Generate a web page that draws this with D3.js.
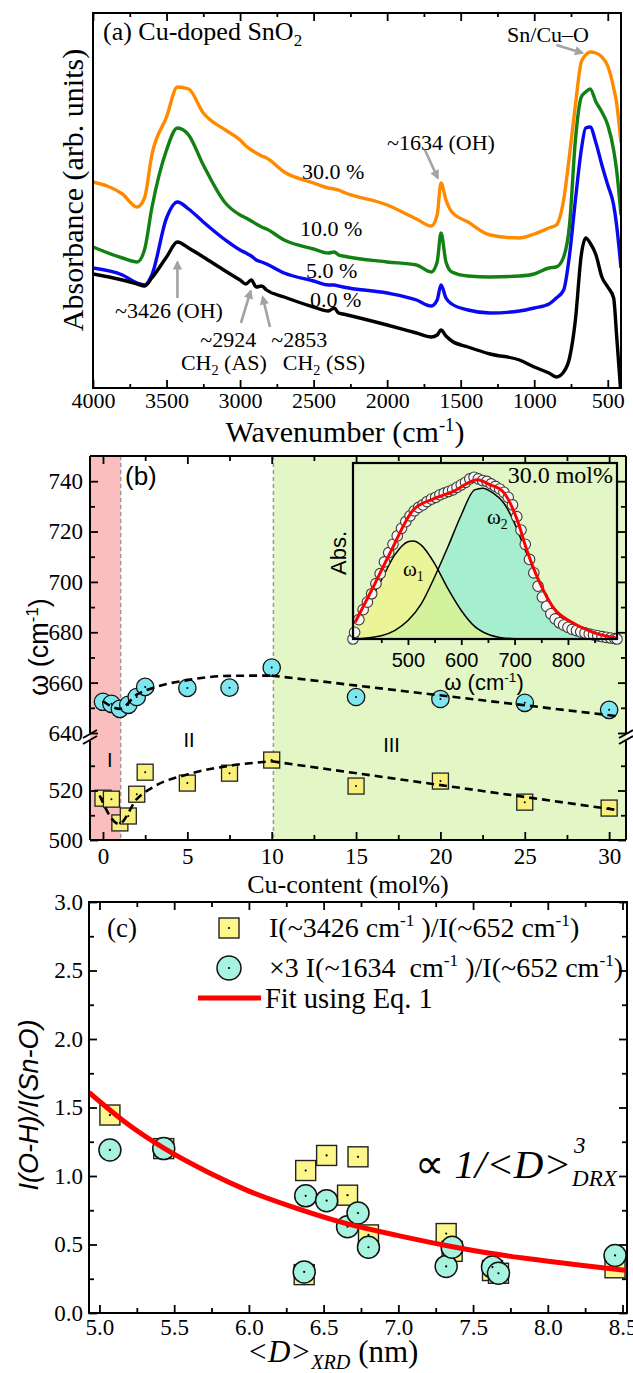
<!DOCTYPE html>
<html>
<head>
<meta charset="utf-8">
<script src="https://cdn.jsdelivr.net/npm/d3@7/dist/d3.min.js"></script>
<style>
html,body{margin:0;padding:0;background:#fff;}
svg{display:block;}
text{white-space:pre;}
</style>
</head>
<body>
<svg id="chart" width="633" height="1373" xmlns="http://www.w3.org/2000/svg"></svg>
<script>
// ======================= DATA =======================
// ---- Panel (a): FTIR absorbance spectra (arb. units, stacked)
const wavenumbers = [4000,3800,3700,3650,3600,3500,3426,3350,3250,3100,3000,2960,2924,2890,2853,2820,2700,2500,2400,2360,2330,2300,2000,1800,1700,1660,1634,1600,1560,1450,1300,1100,1000,900,850,800,760,720,680,650,620,580,540,500,460,440,410];
const absCu0  = [1.14,1.08,1.04,1.02,1.10,1.31,1.46,1.40,1.31,1.17,1.08,1.04,1.08,1.01,1.02,0.98,0.91,0.81,0.77,0.80,0.75,0.74,0.63,0.55,0.51,0.53,0.58,0.52,0.47,0.41,0.34,0.28,0.21,0.15,0.11,0.16,0.30,0.68,1.33,1.50,1.45,1.33,1.11,1.01,0.90,0.53,-0.07];
const absCu5  = [1.20,1.13,1.05,1.03,1.13,1.70,1.86,1.79,1.66,1.48,1.38,1.35,1.32,1.28,1.26,1.24,1.15,1.07,1.03,1.03,1.02,1.01,0.95,0.88,0.82,0.88,1.03,0.90,0.84,0.78,0.75,0.77,0.80,0.84,0.90,0.98,1.33,1.88,2.38,2.60,2.61,2.45,2.23,2.03,1.83,1.63,1.20];
const absCu10 = [1.41,1.30,1.26,1.38,1.80,2.38,2.60,2.53,2.23,1.85,1.73,1.70,1.67,1.64,1.61,1.59,1.48,1.39,1.35,1.36,1.33,1.32,1.26,1.23,1.16,1.26,1.55,1.26,1.16,1.12,1.11,1.12,1.14,1.20,1.21,1.31,1.63,2.48,2.91,2.96,2.99,2.86,2.76,2.63,2.38,2.18,1.73];
const absCu30 = [2.06,1.94,1.81,1.90,2.33,2.71,3.01,2.99,2.75,2.58,2.48,2.42,2.38,2.35,2.32,2.30,2.16,2.05,2.00,1.99,1.98,1.96,1.83,1.69,1.62,1.73,2.05,1.88,1.76,1.66,1.53,1.50,1.54,1.60,1.63,1.88,2.33,2.83,3.26,3.33,3.36,3.35,3.31,3.22,3.00,2.85,2.45];
const spectrumLabels = ["0.0 %","5.0 %","10.0 %","30.0 %"];
const wavenumberTicks = [4000,3500,3000,2500,2000,1500,1000,500];
const wavenumberMinorTicks = [3750,3250,2750,2250,1750,1250,750];

// ---- Panel (b): mode positions vs Cu content
const cuContent = [0,0.5,1,1.5,2,2.5,5,7.5,10,15,20,25,30];
const omega2 = [652.4,651.6,649.6,651.2,654.3,658.3,657.9,658.0,666.0,654.3,653.5,652.0,649.2];
const omega1 = [516.9,516.5,506.9,509.7,518.5,527.4,523.0,527.0,532.3,521.8,523.8,515.3,512.9];
const omega2FitCu = [0,1,2,3,5,7.5,10];
const omega2FitVal = [652.6,649.6,655.2,658.0,661.0,662.7,662.8];
const omega2TrendCu = [10,30.6];
const omega2TrendVal = [662.8,646.6];
const omega1FitCu = [-0.2,0.95,2,3,5,7.5,10];
const omega1FitVal = [518.0,506.5,516.5,521.5,526.5,530.0,531.8];
const omega1TrendCu = [10,30.6];
const omega1TrendVal = [531.8,512.0];
const regionBounds = [1.05,10.1];
const cuTicks = [0,5,10,15,20,25,30];
const cuMinorTicks = [2.5,7.5,12.5,17.5,22.5,27.5];
const omegaUpperTicks = [640,660,680,700,720,740];
const omegaUpperMinor = [650,670,690,710,730];
const omegaLowerTicks = [500,520];
const omegaLowerMinor = [510,530];

// ---- Panel (b) inset: 30.0 mol% band deconvolution
const insetWave = [397,400,408,416,424,432,440,448,456,464,472,480,488,496,504,512,520,528,536,544,552,560,568,576,584,592,600,608,616,624,632,640,648,656,664,672,680,688,696,704,712,720,728,736,744,752,760,768,776,784,792,800,808,816,824,832,840,848,856,864,872,880,888,892];
const insetAbs  = [0.0,0.04,0.115,0.175,0.22,0.27,0.33,0.39,0.46,0.515,0.565,0.615,0.66,0.70,0.735,0.765,0.785,0.80,0.82,0.835,0.845,0.86,0.87,0.88,0.89,0.905,0.92,0.935,0.955,0.965,0.955,0.945,0.94,0.925,0.91,0.895,0.875,0.845,0.80,0.73,0.65,0.565,0.475,0.395,0.315,0.25,0.195,0.15,0.12,0.097,0.083,0.07,0.057,0.05,0.043,0.036,0.029,0.024,0.019,0.014,0.01,0.006,0.002,0.0];
const insetFitWave = [401,435,466,510,547,585,630,654,678,705,723,748,772,810,847,892];
const insetFitAbs  = [0.10,0.31,0.51,0.77,0.835,0.88,0.95,0.92,0.88,0.71,0.53,0.33,0.19,0.095,0.04,0.005];
const comp1Wave = [397,425,450,475,500,510,525,550,575,600,625,650,675,700,750,892];
const comp1Abs  = [0.09,0.21,0.35,0.50,0.58,0.585,0.56,0.45,0.30,0.17,0.075,0.028,0.008,0.002,0,0];
const comp2Wave = [397,450,475,500,525,550,575,600,625,640,660,680,700,720,740,760,780,800,825,850,892];
const comp2Abs  = [0,0.02,0.05,0.11,0.21,0.37,0.55,0.74,0.89,0.90,0.87,0.81,0.69,0.53,0.38,0.25,0.15,0.085,0.04,0.015,0];
const insetTicks = [500,600,700,800];
const insetMinorTicks = [450,550,650,750,850];

// ---- Panel (c): intensity ratios vs crystallite size
const crystalSize = [5.07,5.43,6.37,6.38,6.52,6.66,6.73,6.80,7.32,7.36,7.63,7.67,8.45];
const ratio3426 = [1.445,1.20,0.28,1.04,1.15,0.86,1.14,0.57,0.58,0.45,0.31,0.29,0.33];
const ratio1634x3 = [1.19,1.20,0.30,0.855,0.82,0.63,0.73,0.48,0.34,0.48,0.335,0.29,0.42];
const fitSize = [4.93,5.2,5.42,5.74,6.0,6.33,6.66,7.0,7.31,7.65,7.99,8.25,8.53];
const fitRatio = [1.61,1.37,1.21,1.02,0.89,0.76,0.65,0.565,0.495,0.43,0.38,0.345,0.31];
const sizeTicks = [5.0,5.5,6.0,6.5,7.0,7.5,8.0,8.5];
const sizeMinorTicks = [5.25,5.75,6.25,6.75,7.25,7.75,8.25];
const ratioTicks = [0,0.5,1.0,1.5,2.0,2.5,3.0];
const ratioMinorTicks = [0.25,0.75,1.25,1.75,2.25,2.75];

// ======================= DRAWING =======================
const SERIF = "'Liberation Serif','Times New Roman',serif";
const SANS = "'Liberation Sans',Arial,sans-serif";
const svg = d3.select("#chart");
svg.append("rect").attr("width",633).attr("height",1373).attr("fill","#fff");
const defs = svg.append("defs");
defs.append("marker").attr("id","arrowGray").attr("viewBox","0 0 10 10")
  .attr("refX",8).attr("refY",5).attr("markerWidth",4).attr("markerHeight",3.6)
  .attr("orient","auto")
  .append("path").attr("d","M0,0 L10,5 L0,10 z").attr("fill","#a3a3a3");

function styleAxis(sel, family, size) {
  sel.select(".domain").remove();
  sel.selectAll(".tick line").attr("stroke","#000").attr("stroke-width",1.8);
  sel.selectAll(".tick text").attr("font-family",family).attr("font-size",size).attr("fill","#000");
}
function addAxis(g, gen, tx, ty, family, size) {
  return g.append("g").attr("transform",`translate(${tx},${ty})`).call(gen).call(styleAxis, family, size);
}
function richText(g, x, y, parts, o) {
  const t = g.append("text").attr("x",x).attr("y",y)
    .attr("font-family",o.family).attr("font-size",o.size)
    .attr("text-anchor",o.anchor||"start").attr("fill","#000");
  if (o.italic) t.attr("font-style","italic");
  if (o.rotate) t.attr("transform",`rotate(${o.rotate},${x},${y})`);
  let shift = 0;
  parts.forEach(p => {
    let target = 0, size = o.size;
    if (p.sup) { target = -o.size*0.38; size = o.size*0.62; }
    if (p.sub) { target = o.size*0.22; size = o.size*0.65; }
    const ts = t.append("tspan").attr("dy", target - shift).attr("font-size", size).text(p.t);
    if (p.italic !== undefined) ts.attr("font-style", p.italic ? "italic" : "normal");
    shift = target;
  });
  return t;
}

// ---------------- Panel (a) ----------------
const A = {l:93, r:621, t:13, b:388};
const xA = d3.scaleLinear().domain([4000,410]).range([A.l,A.r]);
const yA = d3.scaleLinear().domain([0,3.75]).range([A.b,A.t]);
const gA = svg.append("g");
defs.append("clipPath").attr("id","clipA").append("rect")
  .attr("x",A.l).attr("y",A.t).attr("width",A.r-A.l).attr("height",A.b-A.t);

const spectra = [
  {vals:absCu30, color:"#ff8a00"},
  {vals:absCu10, color:"#138013"},
  {vals:absCu5,  color:"#0808f2"},
  {vals:absCu0,  color:"#000000"}
];
const lineA = d3.line().x((d,i)=>xA(wavenumbers[i])).y(d=>yA(d)).curve(d3.curveMonotoneX);
gA.append("g").attr("clip-path","url(#clipA)")
  .selectAll("path").data(spectra).join("path")
  .attr("d", d=>lineA(d.vals)).attr("fill","none")
  .attr("stroke", d=>d.color).attr("stroke-width",3.4).attr("stroke-linejoin","round");

addAxis(gA, d3.axisBottom(xA).tickValues(wavenumberTicks).tickSize(-8).tickPadding(4).tickFormat(d3.format("d")), 0, A.b, SERIF, 22);
addAxis(gA, d3.axisBottom(xA).tickValues(wavenumberMinorTicks).tickSize(-4).tickFormat(""), 0, A.b, SERIF, 22);
addAxis(gA, d3.axisTop(xA).tickValues(wavenumberTicks).tickSize(-8).tickFormat(""), 0, A.t, SERIF, 22);
addAxis(gA, d3.axisTop(xA).tickValues(wavenumberMinorTicks).tickSize(-4).tickFormat(""), 0, A.t, SERIF, 22);
gA.append("rect").attr("x",A.l).attr("y",A.t).attr("width",A.r-A.l).attr("height",A.b-A.t)
  .attr("fill","none").attr("stroke","#000").attr("stroke-width",2);

// spectrum labels (data coordinates)
const specLabelPos = [[2525,0.81],[2552,1.10],[2593,1.52],[2579,2.09]];
spectrumLabels.forEach((s,i)=>{
  gA.append("text").attr("x",xA(specLabelPos[i][0])).attr("y",yA(specLabelPos[i][1]))
    .attr("font-family",SERIF).attr("font-size",22).text(s);
});
// arrows (data coordinates)
const arrowsA = [
  [3426,0.90,3426,1.26],
  [2994,0.65,2928,0.97],
  [2797,0.61,2846,0.91],
  [1743,2.38,1656,2.10],
  [850,3.43,672,3.35]
];
gA.selectAll("line.arr").data(arrowsA).join("line").attr("class","arr")
  .attr("x1",d=>xA(d[0])).attr("y1",d=>yA(d[1])).attr("x2",d=>xA(d[2])).attr("y2",d=>yA(d[3]))
  .attr("stroke","#a3a3a3").attr("stroke-width",2.6).attr("marker-end","url(#arrowGray)");
// annotation texts
const annA = [
  {w:3483, v:0.70, parts:[{t:"~3426 (OH)"}]},
  {w:3080, v:0.415, parts:[{t:"~2924"}]},
  {w:3110, v:0.18, parts:[{t:"CH"},{t:"2",sub:true},{t:" (AS)"}]},
  {w:2598, v:0.415, parts:[{t:"~2853"}]},
  {w:2430, v:0.18, parts:[{t:"CH"},{t:"2",sub:true},{t:" (SS)"}]},
  {w:1634, v:2.38, parts:[{t:"~1634 (OH)"}]},
  {w:906, v:3.46, parts:[{t:"Sn/Cu\u2013O"}]}
];
annA.forEach(a=>richText(gA, xA(a.w), yA(a.v), a.parts, {family:SERIF,size:22,anchor:"middle"}));
richText(gA, 103, 40, [{t:"(a) Cu-doped SnO"},{t:"2",sub:true}], {family:SERIF,size:26});
richText(gA, 345, 442, [{t:"Wavenumber (cm"},{t:"-1",sup:true},{t:")"}], {family:SERIF,size:30,anchor:"middle"});
richText(gA, 83, 190, [{t:"Absorbance (arb. units)"}], {family:SERIF,size:30,anchor:"middle",rotate:-90});

// ---------------- Panel (b) ----------------
const B = {l:90, r:626, t:456, b:840};
const xB = d3.scaleLinear().domain([-0.77,31.0]).range([B.l,B.r]);
const yBu = d3.scaleLinear().domain([640,750]).range([733,456]);
const yBl = d3.scaleLinear().domain([500,540]).range([840,741]);
const gB = svg.append("g");
const x0 = xB.domain()[0], x1 = xB.domain()[1];
gB.append("rect").attr("x",xB(x0)).attr("y",B.t).attr("width",xB(regionBounds[0])-xB(x0)).attr("height",B.b-B.t).attr("fill","#fbbebe");
gB.append("rect").attr("x",xB(regionBounds[1])).attr("y",B.t).attr("width",xB(x1)-xB(regionBounds[1])).attr("height",B.b-B.t).attr("fill","#e2f6c6");
gB.selectAll("line.rb").data(regionBounds).join("line").attr("class","rb")
  .attr("x1",d=>xB(d)).attr("x2",d=>xB(d)).attr("y1",B.t).attr("y2",B.b)
  .attr("stroke","#9a9a9a").attr("stroke-width",1.5).attr("stroke-dasharray","4,3");

// region labels
[["I",0.4,529.5],["II",5.1,537.6],["III",17.1,535.6]].forEach(r=>{
  gB.append("text").attr("x",xB(r[1])).attr("y",yBl(r[2])).attr("text-anchor","middle")
    .attr("font-family",SANS).attr("font-size",20).text(r[0]);
});

// markers
const gM = gB.append("g");
gM.selectAll("circle.o2").data(cuContent).join("circle").attr("class","o2")
  .attr("cx",d=>xB(d)).attr("cy",(d,i)=>yBu(omega2[i])).attr("r",8.7)
  .attr("fill","#7de6ee").attr("stroke","#111").attr("stroke-width",1.3);
gM.selectAll("rect.o1").data(cuContent).join("rect").attr("class","o1")
  .attr("x",d=>xB(d)-8).attr("y",(d,i)=>yBl(omega1[i])-8).attr("width",16).attr("height",16)
  .attr("fill","#f8f07a").attr("stroke","#222").attr("stroke-width",1.3);
gM.selectAll("circle.d2").data(cuContent).join("circle").attr("class","d2")
  .attr("cx",d=>xB(d)).attr("cy",(d,i)=>yBu(omega2[i])).attr("r",1).attr("fill","#000");
gM.selectAll("circle.d1").data(cuContent).join("circle").attr("class","d1")
  .attr("cx",d=>xB(d)).attr("cy",(d,i)=>yBl(omega1[i])).attr("r",1).attr("fill","#000");

// dashed guide curves
const dashStyle = p => p.attr("fill","none").attr("stroke","#000").attr("stroke-width",2.6).attr("stroke-dasharray","8,5");
gB.append("path").attr("d", d3.line().x(d=>xB(d)).y((d,i)=>yBu(omega2FitVal[i])).curve(d3.curveMonotoneX)(omega2FitCu)).call(dashStyle);
gB.append("path").attr("d", d3.line().x(d=>xB(d)).y((d,i)=>yBu(omega2TrendVal[i]))(omega2TrendCu)).call(dashStyle);
gB.append("path").attr("d", d3.line().x(d=>xB(d)).y((d,i)=>yBl(omega1FitVal[i])).curve(d3.curveMonotoneX)(omega1FitCu)).call(dashStyle);
gB.append("path").attr("d", d3.line().x(d=>xB(d)).y((d,i)=>yBl(omega1TrendVal[i]))(omega1TrendCu)).call(dashStyle);

// axes
addAxis(gB, d3.axisBottom(xB).tickValues(cuTicks).tickSize(-8).tickPadding(8).tickFormat(d3.format("d")), 0, B.b, SERIF, 23);
addAxis(gB, d3.axisBottom(xB).tickValues(cuMinorTicks).tickSize(-5).tickFormat(""), 0, B.b, SERIF, 23);
addAxis(gB, d3.axisTop(xB).tickValues(cuTicks).tickSize(-8).tickFormat(""), 0, B.t, SERIF, 23);
addAxis(gB, d3.axisTop(xB).tickValues(cuMinorTicks).tickSize(-5).tickFormat(""), 0, B.t, SERIF, 23);
addAxis(gB, d3.axisLeft(yBu).tickValues(omegaUpperTicks).tickSize(-8).tickPadding(7).tickFormat(d3.format("d")), B.l, 0, SERIF, 23);
addAxis(gB, d3.axisLeft(yBu).tickValues(omegaUpperMinor).tickSize(-5).tickFormat(""), B.l, 0, SERIF, 23);
addAxis(gB, d3.axisLeft(yBl).tickValues(omegaLowerTicks).tickSize(-8).tickPadding(7).tickFormat(d3.format("d")), B.l, 0, SERIF, 23);
addAxis(gB, d3.axisLeft(yBl).tickValues(omegaLowerMinor).tickSize(-5).tickFormat(""), B.l, 0, SERIF, 23);
addAxis(gB, d3.axisRight(yBu).tickValues(omegaUpperTicks).tickSize(-8).tickFormat(""), B.r, 0, SERIF, 23);
addAxis(gB, d3.axisRight(yBu).tickValues(omegaUpperMinor).tickSize(-5).tickFormat(""), B.r, 0, SERIF, 23);
addAxis(gB, d3.axisRight(yBl).tickValues(omegaLowerTicks).tickSize(-8).tickFormat(""), B.r, 0, SERIF, 23);
addAxis(gB, d3.axisRight(yBl).tickValues(omegaLowerMinor).tickSize(-5).tickFormat(""), B.r, 0, SERIF, 23);

// frame with axis break
const fr = gB.append("g").attr("stroke","#000").attr("stroke-width",2).attr("fill","none");
const yBreakTop = yBu(640), yBreakBot = yBl(540);
fr.append("line").attr("x1",B.l).attr("x2",B.r).attr("y1",B.t).attr("y2",B.t);
fr.append("line").attr("x1",B.l).attr("x2",B.r).attr("y1",B.b).attr("y2",B.b);
[B.l,B.r].forEach(x=>{
  fr.append("line").attr("x1",x).attr("x2",x).attr("y1",B.t).attr("y2",yBreakTop);
  fr.append("line").attr("x1",x).attr("x2",x).attr("y1",yBreakBot).attr("y2",B.b);
  [yBreakTop+1,yBreakBot-1].forEach(y=>{
    fr.append("line").attr("x1",x-7).attr("y1",y+4).attr("x2",x+7).attr("y2",y-4);
  });
});
gB.append("text").attr("x",125).attr("y",485).attr("font-family",SANS).attr("font-size",26).text("(b)");
richText(gB, 348, 893, [{t:"Cu-content (mol%)"}], {family:SERIF,size:26,anchor:"middle"});
richText(gB, 48, 647, [{t:"\u03c9 (cm"},{t:"-1",sup:true},{t:")"}], {family:SANS,size:27,anchor:"middle",rotate:-90});

// ---------------- Inset ----------------
const I = {l:353, r:617, t:463, b:639};
const xI = d3.scaleLinear().domain([397,892]).range([I.l,I.r]);
const yI = d3.scaleLinear().domain([0,1.05]).range([I.b,I.t]);
const gI = svg.append("g");
const areaI = (w) => d3.area().x((d,i)=>xI(w[i])).y0(yI(0)).y1(d=>yI(d)).curve(d3.curveMonotoneX);
const lineI = (w) => d3.line().x((d,i)=>xI(w[i])).y(d=>yI(d)).curve(d3.curveMonotoneX);
gI.append("path").attr("d",areaI(comp2Wave)(comp2Abs)).attr("fill","#8eecd2").attr("fill-opacity",0.72);
gI.append("path").attr("d",areaI(comp1Wave)(comp1Abs)).attr("fill","#f4f47a").attr("fill-opacity",0.6);
gI.append("path").attr("d",lineI(comp2Wave)(comp2Abs)).attr("fill","none").attr("stroke","#000").attr("stroke-width",1.5);
gI.append("path").attr("d",lineI(comp1Wave)(comp1Abs)).attr("fill","none").attr("stroke","#000").attr("stroke-width",1.5);
gI.selectAll("circle.ex").data(insetWave).join("circle").attr("class","ex")
  .attr("cx",d=>xI(d)).attr("cy",(d,i)=>yI(insetAbs[i])).attr("r",5.3)
  .attr("fill","#f6f6f6").attr("stroke","#3a3a3a").attr("stroke-width",1.1);
gI.append("path").attr("d",lineI(insetFitWave)(insetFitAbs)).attr("fill","none").attr("stroke","#ff0000").attr("stroke-width",3);
gI.append("rect").attr("x",I.l).attr("y",I.t).attr("width",I.r-I.l).attr("height",I.b-I.t)
  .attr("fill","none").attr("stroke","#000").attr("stroke-width",2.2);
addAxis(gI, d3.axisBottom(xI).tickValues(insetTicks).tickSize(6).tickPadding(8).tickFormat(d3.format("d")), 0, I.b, SANS, 20);
addAxis(gI, d3.axisBottom(xI).tickValues(insetMinorTicks).tickSize(4).tickFormat(""), 0, I.b, SANS, 20);
richText(gI, 613, 483, [{t:"30.0 mol%"}], {family:SERIF,size:24,anchor:"end"});
richText(gI, 403, 576, [{t:"\u03c9"},{t:"1",sub:true}], {family:SERIF,size:21});
richText(gI, 487, 524, [{t:"\u03c9"},{t:"2",sub:true}], {family:SERIF,size:21});
richText(gI, 346, 553, [{t:"Abs."}], {family:SANS,size:22,anchor:"middle",rotate:-90});
richText(gI, 484, 690, [{t:"\u03c9 (cm"},{t:"-1",sup:true},{t:")"}], {family:SANS,size:22,anchor:"middle"});

// ---------------- Panel (c) ----------------
const C = {l:89, r:627, t:902, b:1313};
const xC = d3.scaleLinear().domain([4.93,8.53]).range([C.l,C.r]);
const yC = d3.scaleLinear().domain([0,3]).range([C.b,C.t]);
const gC = svg.append("g");
defs.append("clipPath").attr("id","clipC").append("rect")
  .attr("x",C.l).attr("y",C.t).attr("width",C.r-C.l).attr("height",C.b-C.t);

gC.selectAll("rect.sq").data(crystalSize).join("rect").attr("class","sq")
  .attr("x",d=>xC(d)-10).attr("y",(d,i)=>yC(ratio3426[i])-10).attr("width",20).attr("height",20)
  .attr("fill","#fdf68a").attr("stroke","#222").attr("stroke-width",1.4);
gC.selectAll("circle.sqd").data(crystalSize).join("circle").attr("class","sqd")
  .attr("cx",d=>xC(d)).attr("cy",(d,i)=>yC(ratio3426[i])).attr("r",1.1).attr("fill","#000");
gC.selectAll("circle.ci").data(crystalSize).join("circle").attr("class","ci")
  .attr("cx",d=>xC(d)).attr("cy",(d,i)=>yC(ratio1634x3[i])).attr("r",11)
  .attr("fill","#a6f3df").attr("stroke","#111").attr("stroke-width",1.5);
gC.selectAll("circle.cid").data(crystalSize).join("circle").attr("class","cid")
  .attr("cx",d=>xC(d)).attr("cy",(d,i)=>yC(ratio1634x3[i])).attr("r",1.1).attr("fill","#000");
gC.append("path").attr("clip-path","url(#clipC)")
  .attr("d", d3.line().x(d=>xC(d)).y((d,i)=>yC(fitRatio[i])).curve(d3.curveMonotoneX)(fitSize))
  .attr("fill","none").attr("stroke","#ff0000").attr("stroke-width",5);

addAxis(gC, d3.axisBottom(xC).tickValues(sizeTicks).tickSize(-8).tickPadding(6).tickFormat(d3.format(".1f")), 0, C.b, SERIF, 23);
addAxis(gC, d3.axisBottom(xC).tickValues(sizeMinorTicks).tickSize(-5).tickFormat(""), 0, C.b, SERIF, 23);
addAxis(gC, d3.axisTop(xC).tickValues(sizeTicks).tickSize(-8).tickFormat(""), 0, C.t, SERIF, 23);
addAxis(gC, d3.axisTop(xC).tickValues(sizeMinorTicks).tickSize(-5).tickFormat(""), 0, C.t, SERIF, 23);
addAxis(gC, d3.axisLeft(yC).tickValues(ratioTicks).tickSize(-8).tickPadding(6).tickFormat(d3.format(".1f")), C.l, 0, SERIF, 23);
addAxis(gC, d3.axisLeft(yC).tickValues(ratioMinorTicks).tickSize(-5).tickFormat(""), C.l, 0, SERIF, 23);
addAxis(gC, d3.axisRight(yC).tickValues(ratioTicks).tickSize(-8).tickFormat(""), C.r, 0, SERIF, 23);
addAxis(gC, d3.axisRight(yC).tickValues(ratioMinorTicks).tickSize(-5).tickFormat(""), C.r, 0, SERIF, 23);
gC.append("rect").attr("x",C.l).attr("y",C.t).attr("width",C.r-C.l).attr("height",C.b-C.t)
  .attr("fill","none").attr("stroke","#000").attr("stroke-width",2);

// legend
gC.append("text").attr("x",107).attr("y",937).attr("font-family",SERIF).attr("font-size",27).text("(c)");
gC.append("rect").attr("x",219).attr("y",918).attr("width",20).attr("height",20)
  .attr("fill","#fdf68a").attr("stroke","#222").attr("stroke-width",1.4);
gC.append("circle").attr("cx",229).attr("cy",928).attr("r",1.1).attr("fill","#000");
gC.append("circle").attr("cx",229).attr("cy",968).attr("r",12)
  .attr("fill","#a6f3df").attr("stroke","#111").attr("stroke-width",1.5);
gC.append("circle").attr("cx",229).attr("cy",968).attr("r",1.1).attr("fill","#000");
gC.append("line").attr("x1",198).attr("x2",261).attr("y1",998).attr("y2",998).attr("stroke","#ff0000").attr("stroke-width",5);
richText(gC, 269, 937, [{t:"I(~3426 cm"},{t:"-1",sup:true},{t:" )/I(~652 cm"},{t:"-1",sup:true},{t:")"}], {family:SERIF,size:28});
richText(gC, 269, 977, [{t:"\u00d73 I(~1634  cm"},{t:"-1",sup:true},{t:" )/I(~652 cm"},{t:"-1",sup:true},{t:")"}], {family:SERIF,size:28});
richText(gC, 265, 1008, [{t:"Fit using Eq. 1"}], {family:SERIF,size:28.5});

// proportionality annotation
const propT = gC.append("text").attr("x",415).attr("y",1178).attr("font-family",SERIF).attr("font-size",41);
propT.append("tspan").text("\u221d ");
propT.append("tspan").attr("font-style","italic").text("1/<D>");
const pw = propT.node().getComputedTextLength();
gC.append("text").attr("x",415+pw+3).attr("y",1153).attr("font-family",SERIF).attr("font-style","italic").attr("font-size",23).text("3");
gC.append("text").attr("x",415+pw+1).attr("y",1186).attr("font-family",SERIF).attr("font-style","italic").attr("font-size",23).text("DRX");

// axis titles
richText(gC, 247, 1362, [{t:"<D>",italic:true},{t:"XRD",sub:true,italic:true},{t:" (nm)",italic:false}], {family:SERIF,size:31});
richText(gC, 38, 1105, [{t:"I(O-H)/I(Sn-O)"}], {family:SANS,size:27,anchor:"middle",rotate:-90,italic:true});
</script>
</body>
</html>
